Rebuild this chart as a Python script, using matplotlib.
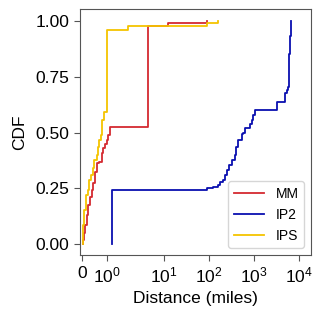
import numpy as np
import matplotlib
matplotlib.use("Agg")
import matplotlib.pyplot as plt

plt.rcParams['font.family'] = ['Liberation Sans', 'DejaVu Sans']
plt.rcParams['mathtext.fontset'] = 'custom'
plt.rcParams['mathtext.rm'] = 'Liberation Sans'
plt.rcParams['mathtext.it'] = 'Liberation Sans:italic'

# MM
mm_dist = [0.028, 0.028, 0.088, 0.128, 0.188, 0.248, 0.308, 0.388, 0.448, 0.508, 0.576,
           0.656, 0.776, 0.84, 0.908, 0.976, 1.04, 1.108, 4.4, 12.6, 92.9]
mm_cdf = [0.0, 0.02, 0.05, 0.086, 0.131, 0.175, 0.21, 0.243, 0.275, 0.324, 0.364,
          0.37, 0.41, 0.43, 0.45, 0.466, 0.49, 0.526, 0.978, 0.991, 1.0]

# IP2
ip2_dist = [1.18, 1.18, 90, 126, 163, 178, 210, 230, 251, 286, 324, 383, 403, 454, 540, 586,
            639, 826, 900, 977, 1066, 3236, 4950, 5560, 5860, 6070, 6225, 6385, 6560]
ip2_cdf = [0.0, 0.243, 0.25, 0.256, 0.265, 0.277, 0.288, 0.31, 0.332, 0.355, 0.377, 0.40,
           0.436, 0.466, 0.493, 0.497, 0.522, 0.536, 0.556, 0.578, 0.60, 0.638, 0.675,
           0.69, 0.705, 0.78, 0.85, 0.93, 1.0]

# IPS
ips_dist = [0.016, 0.016, 0.048, 0.08, 0.148, 0.228, 0.28, 0.348, 0.416, 0.488, 0.576, 0.628,
            0.68, 0.748, 0.788, 0.88, 0.976, 1.84, 92.9, 163]
ips_cdf = [0.0, 0.02, 0.086, 0.153, 0.22, 0.243, 0.288, 0.31, 0.341, 0.377, 0.40, 0.435,
           0.466, 0.489, 0.556, 0.593, 0.958, 0.978, 0.991, 1.0]

fig = plt.figure(figsize=(3.13, 3.10), dpi=100)
ax = fig.add_axes([0.2556, 0.1774, 0.738, 0.7946])

ax.step(mm_dist, mm_cdf, where='post', color='#d42a30', lw=1.3, label='MM')
ax.step(ip2_dist, ip2_cdf, where='post', color='#0a0fb0', lw=1.3, label='IP2')
ax.step(ips_dist, ips_cdf, where='post', color='#f5c400', lw=1.3, label='IPS')

ax.set_xscale('symlog')
ax.set_xlim(-0.09, 18700)
ax.set_ylim(-0.048, 1.054)
ax.set_xticks([0, 1, 10, 100, 1000, 10000])
ax.set_yticks([0, 0.25, 0.5, 0.75, 1.0])
ax.minorticks_off()

ax.set_xlabel('Distance (miles)', fontsize=12.5)
ax.set_ylabel('CDF', fontsize=12.5, labelpad=6)
ax.tick_params(labelsize=12.5, color='#555555', length=4)
for spine in ax.spines.values():
    spine.set_edgecolor('#555555')

ax.legend(loc='lower right', fontsize=10, handlelength=2.2)

fig.savefig('out.png', dpi=100)
